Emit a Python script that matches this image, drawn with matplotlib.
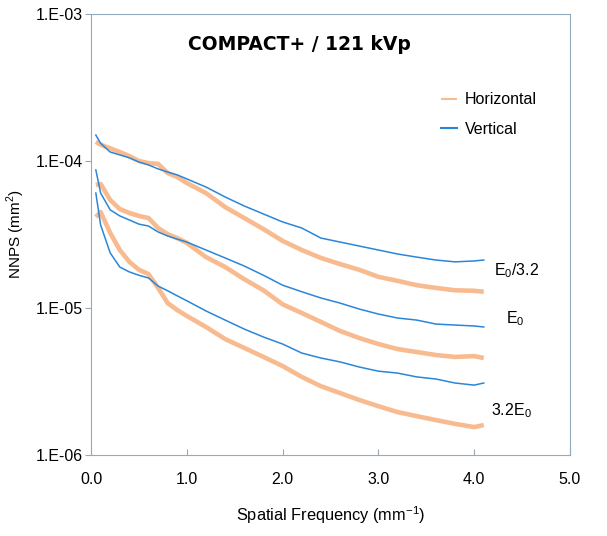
import numpy as np
import matplotlib
matplotlib.use("Agg")
import matplotlib.pyplot as plt
from matplotlib.ticker import FixedLocator, FixedFormatter, NullLocator

plt.rcParams['font.family'] = ['Liberation Sans', 'DejaVu Sans']

# spatial frequency (mm^-1), common grid for all curves
freq = [0.05, 0.1, 0.2, 0.3, 0.4, 0.5, 0.6, 0.7, 0.8, 0.9, 1.0, 1.2, 1.4, 1.6, 1.8,
        2.0, 2.2, 2.4, 2.6, 2.8, 3.0, 3.2, 3.4, 3.6, 3.8, 4.0, 4.1]

# E0/3.2
vert_low = [1.50e-4, 1.32e-4, 1.15e-4, 1.10e-4, 1.05e-4, 9.84e-5, 9.40e-5, 8.83e-5, 8.41e-5,
            8.04e-5, 7.55e-5, 6.65e-5, 5.69e-5, 4.94e-5, 4.36e-5, 3.85e-5, 3.50e-5, 2.99e-5,
            2.81e-5, 2.64e-5, 2.48e-5, 2.33e-5, 2.22e-5, 2.12e-5, 2.06e-5, 2.09e-5, 2.12e-5]
horz_low = [1.35e-4, 1.29e-4, 1.22e-4, 1.15e-4, 1.08e-4, 1.00e-4, 9.68e-5, 9.55e-5, 8.28e-5,
            7.78e-5, 7.08e-5, 6.05e-5, 4.86e-5, 4.09e-5, 3.44e-5, 2.86e-5, 2.48e-5, 2.19e-5,
            1.99e-5, 1.82e-5, 1.63e-5, 1.53e-5, 1.43e-5, 1.37e-5, 1.32e-5, 1.31e-5, 1.29e-5]
# E0
vert_mid = [8.69e-5, 6.05e-5, 4.65e-5, 4.23e-5, 3.97e-5, 3.72e-5, 3.61e-5, 3.29e-5, 3.09e-5,
            2.94e-5, 2.81e-5, 2.48e-5, 2.19e-5, 1.93e-5, 1.67e-5, 1.43e-5, 1.29e-5, 1.17e-5,
            1.08e-5, 9.84e-6, 9.10e-6, 8.55e-6, 8.28e-6, 7.78e-6, 7.66e-6, 7.55e-6, 7.43e-6]
horz_mid = [6.87e-5, 6.98e-5, 5.43e-5, 4.71e-5, 4.43e-5, 4.23e-5, 4.09e-5, 3.50e-5, 3.18e-5,
            2.99e-5, 2.77e-5, 2.22e-5, 1.90e-5, 1.57e-5, 1.32e-5, 1.06e-5, 9.25e-6, 8.04e-6,
            6.98e-6, 6.25e-6, 5.69e-6, 5.26e-6, 5.02e-6, 4.79e-6, 4.65e-6, 4.71e-6, 4.57e-6]
# 3.2E0
vert_high = [6.05e-5, 3.67e-5, 2.37e-5, 1.90e-5, 1.76e-5, 1.67e-5, 1.60e-5, 1.41e-5, 1.31e-5,
             1.21e-5, 1.12e-5, 9.55e-6, 8.28e-6, 7.19e-6, 6.35e-6, 5.69e-6, 4.94e-6, 4.57e-6,
             4.30e-6, 3.97e-6, 3.72e-6, 3.61e-6, 3.40e-6, 3.29e-6, 3.09e-6, 2.99e-6, 3.09e-6]
horz_high = [4.16e-5, 4.50e-5, 3.24e-5, 2.48e-5, 2.06e-5, 1.82e-5, 1.70e-5, 1.37e-5, 1.08e-5,
             9.68e-6, 8.83e-6, 7.43e-6, 6.15e-6, 5.35e-6, 4.65e-6, 4.03e-6, 3.40e-6, 2.94e-6,
             2.64e-6, 2.37e-6, 2.15e-6, 1.96e-6, 1.84e-6, 1.73e-6, 1.63e-6, 1.55e-6, 1.60e-6]

y_ticks = [1e-6, 1e-5, 1e-4, 1e-3]
y_labels = ["1.E-06", "1.E-05", "1.E-04", "1.E-03"]
x_ticks = [0, 1, 2, 3, 4, 5]
x_labels = ["0.0", "1.0", "2.0", "3.0", "4.0", "5.0"]

orange = "#f8bb90"
blue = "#2a86d8"
spine_col = "#93aabd"

fig = plt.figure(figsize=(6.07, 5.36), dpi=100)
ax = fig.add_axes([0.150, 0.151, 0.789, 0.823])

# horizontal curves (thick orange) then vertical (thin blue)
ax.plot(freq, horz_low, color=orange, lw=3.3, solid_capstyle='butt', label="Horizontal")
ax.plot(freq, horz_mid, color=orange, lw=3.3, solid_capstyle='butt')
ax.plot(freq, horz_high, color=orange, lw=3.3, solid_capstyle='butt')
ax.plot(freq, vert_low, color=blue, lw=1.1, label="Vertical")
ax.plot(freq, vert_mid, color=blue, lw=1.1)
ax.plot(freq, vert_high, color=blue, lw=1.1)

ax.set_yscale('log')
ax.set_xlim(0, 5)
ax.set_ylim(1e-6, 1e-3)
ax.yaxis.set_major_locator(FixedLocator(y_ticks))
ax.yaxis.set_major_formatter(FixedFormatter(y_labels))
ax.yaxis.set_minor_locator(NullLocator())
ax.set_xticks(x_ticks)
ax.set_xticklabels(x_labels)

for s in ax.spines.values():
    s.set_color(spine_col)
    s.set_linewidth(0.8)
ax.tick_params(axis='y', direction='out', length=4, color=spine_col, labelsize=11.5, pad=2)
ax.tick_params(axis='x', direction='in', length=4, color=spine_col, labelsize=11.5, pad=12)

ax.set_xlabel("Spatial Frequency (mm$^{\\mathregular{-1}}$)", fontsize=11.8, labelpad=13)
ax.set_ylabel("NNPS (mm$^{\\mathregular{2}}$)", fontsize=11, labelpad=6)

ax.text(0.436, 0.93, "COMPACT+ / 121 kVp", transform=ax.transAxes, ha='center', va='center',
        fontsize=13.5, fontweight='bold', family='DejaVu Sans')

ax.text(4.44, 1.8e-5, "E$_\\mathregular{0}$/3.2", ha='center', va='center', fontsize=11.5)
ax.text(4.43, 8.5e-6, "E$_\\mathregular{0}$", ha='center', va='center', fontsize=11.5)
ax.text(4.39, 2.0e-6, "3.2E$_\\mathregular{0}$", ha='center', va='center', fontsize=11.5)

leg = ax.legend(loc='upper left', bbox_to_anchor=(0.70, 0.855), frameon=False, fontsize=11.5,
                handlelength=1.0, handletextpad=0.5, labelspacing=0.9)
for h in leg.get_lines():
    h.set_linewidth(1.5)

fig.savefig("out.png", dpi=100)
